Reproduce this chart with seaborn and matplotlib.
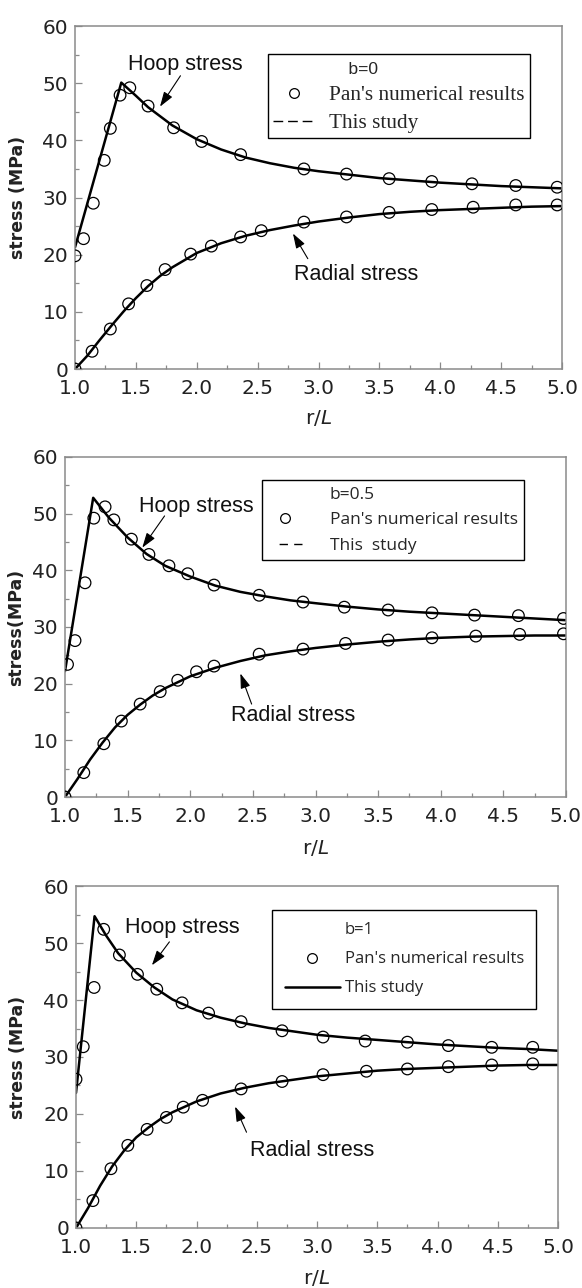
import matplotlib
matplotlib.use("Agg")
import matplotlib.pyplot as plt
from matplotlib.lines import Line2D
from matplotlib.ticker import MultipleLocator, FormatStrFormatter
import seaborn as sns

# ---------------- b = 0 ----------------
pan_hoop_r_b0 = [1.00, 1.07, 1.15, 1.24, 1.29, 1.37, 1.45, 1.60, 1.81, 2.04, 2.36, 2.88, 3.23, 3.58, 3.93, 4.26, 4.62, 4.96]
pan_hoop_s_b0 = [19.8, 22.8, 29.0, 36.5, 42.1, 47.9, 49.2, 46.0, 42.2, 39.8, 37.5, 35.0, 34.1, 33.3, 32.8, 32.4, 32.1, 31.8]
pan_rad_r_b0 = [1.00, 1.14, 1.29, 1.44, 1.59, 1.74, 1.95, 2.12, 2.36, 2.53, 2.88, 3.23, 3.58, 3.93, 4.27, 4.62, 4.96]
pan_rad_s_b0 = [0.0, 3.1, 7.0, 11.4, 14.6, 17.4, 20.1, 21.5, 23.1, 24.2, 25.7, 26.6, 27.4, 27.9, 28.3, 28.7, 28.7]
study_hoop_r_b0 = [1.00, 1.38, 1.50, 1.60, 1.80, 2.00, 2.20, 2.40, 2.60, 2.80, 3.00, 3.25, 3.50, 3.75, 4.00, 4.25, 4.50, 4.75, 5.00]
study_hoop_s_b0 = [21.3, 50.1, 47.8, 45.8, 42.6, 40.2, 38.4, 37.0, 36.0, 35.2, 34.6, 34.0, 33.4, 33.0, 32.6, 32.3, 32.0, 31.8, 31.6]
study_rad_r_b0 = [1.0, 1.1, 1.2, 1.3, 1.4, 1.5, 1.6, 1.7, 1.8, 2.0, 2.2, 2.4, 2.6, 2.8, 3.0, 3.25, 3.5, 3.75, 4.0, 4.25, 4.5, 4.75, 5.0]
study_rad_s_b0 = [0.0, 2.3, 5.0, 7.6, 10.1, 12.4, 14.5, 16.3, 17.8, 20.3, 22.0, 23.3, 24.3, 25.1, 25.8, 26.5, 27.1, 27.5, 27.8, 28.0, 28.2, 28.4, 28.5]

# ---------------- b = 0.5 ----------------
pan_hoop_r_b05 = [1.02, 1.08, 1.16, 1.23, 1.32, 1.39, 1.53, 1.67, 1.83, 1.98, 2.19, 2.55, 2.90, 3.23, 3.58, 3.93, 4.27, 4.62, 4.98]
pan_hoop_s_b05 = [23.4, 27.6, 37.8, 49.2, 51.2, 48.9, 45.5, 42.8, 40.8, 39.4, 37.4, 35.6, 34.4, 33.5, 33.0, 32.5, 32.1, 32.0, 31.5]
pan_rad_r_b05 = [1.00, 1.15, 1.31, 1.45, 1.60, 1.76, 1.90, 2.05, 2.19, 2.55, 2.90, 3.24, 3.58, 3.93, 4.28, 4.63, 4.98]
pan_rad_s_b05 = [0.0, 4.3, 9.4, 13.4, 16.4, 18.6, 20.6, 22.1, 23.1, 25.2, 26.1, 27.1, 27.7, 28.1, 28.4, 28.7, 28.8]
study_hoop_r_b05 = [1.00, 1.225, 1.35, 1.50, 1.65, 1.80, 2.00, 2.20, 2.40, 2.60, 2.80, 3.00, 3.25, 3.50, 3.75, 4.00, 4.25, 4.50, 4.75, 5.00]
study_hoop_s_b05 = [22.2, 52.8, 49.3, 45.8, 42.9, 40.8, 38.9, 37.3, 36.2, 35.4, 34.7, 34.2, 33.6, 33.1, 32.7, 32.4, 32.1, 31.8, 31.5, 31.2]
study_rad_r_b05 = [1.0, 1.1, 1.2, 1.3, 1.4, 1.5, 1.6, 1.7, 1.8, 2.0, 2.2, 2.4, 2.6, 2.8, 3.0, 3.25, 3.5, 3.75, 4.0, 4.25, 4.5, 4.75, 5.0]
study_rad_s_b05 = [0.0, 3.2, 6.6, 9.6, 12.3, 14.5, 16.3, 17.9, 19.2, 21.3, 22.8, 24.0, 25.0, 25.7, 26.3, 26.9, 27.4, 27.8, 28.1, 28.3, 28.4, 28.5, 28.5]

# ---------------- b = 1 ----------------
pan_hoop_r_b1 = [1.00, 1.06, 1.15, 1.23, 1.36, 1.51, 1.67, 1.88, 2.10, 2.37, 2.71, 3.05, 3.40, 3.75, 4.09, 4.45, 4.79]
pan_hoop_s_b1 = [26.1, 31.8, 42.2, 52.4, 47.9, 44.5, 41.9, 39.5, 37.7, 36.2, 34.6, 33.5, 32.8, 32.6, 32.0, 31.7, 31.7]
pan_rad_r_b1 = [1.00, 1.14, 1.29, 1.43, 1.59, 1.75, 1.89, 2.05, 2.37, 2.71, 3.05, 3.41, 3.75, 4.09, 4.45, 4.79]
pan_rad_s_b1 = [0.0, 4.8, 10.4, 14.5, 17.3, 19.4, 21.2, 22.4, 24.4, 25.7, 26.9, 27.5, 27.9, 28.3, 28.6, 28.8]
study_hoop_r_b1 = [1.00, 1.154, 1.25, 1.35, 1.50, 1.65, 1.80, 2.00, 2.20, 2.40, 2.60, 2.80, 3.00, 3.25, 3.50, 3.75, 4.00, 4.25, 4.50, 4.75, 5.00]
study_hoop_s_b1 = [23.7, 54.7, 51.3, 48.2, 44.8, 42.2, 40.1, 38.2, 36.9, 35.9, 35.1, 34.5, 33.9, 33.4, 33.0, 32.6, 32.2, 31.9, 31.6, 31.4, 31.1]
study_rad_r_b1 = [1.0, 1.1, 1.2, 1.3, 1.4, 1.5, 1.6, 1.7, 1.8, 2.0, 2.2, 2.4, 2.6, 2.8, 3.0, 3.25, 3.5, 3.75, 4.0, 4.25, 4.5, 4.75, 5.0]
study_rad_s_b1 = [0.0, 3.5, 7.4, 10.8, 13.6, 15.9, 17.6, 19.1, 20.3, 22.2, 23.6, 24.6, 25.4, 26.0, 26.6, 27.1, 27.6, 27.9, 28.1, 28.3, 28.5, 28.6, 28.6]

b_labels = ["b=0", "b=0.5", "b=1"]
y_labels = ["stress (MPa)", "stress(MPa)", "stress (MPa)"]
x_ticks = [1.0, 1.5, 2.0, 2.5, 3.0, 3.5, 4.0, 4.5, 5.0]
y_ticks = [0, 10, 20, 30, 40, 50, 60]

sns.set_style("ticks")
plt.rcParams["font.family"] = ["DejaVu Sans"]
plt.rcParams["mathtext.fontset"] = "dejavusans"

fig = plt.figure(figsize=(5.82, 12.88), dpi=100)

panels = [
    dict(rect=[0.1289, 0.7135, 0.8368, 0.2663],
         pan=(pan_hoop_r_b0, pan_hoop_s_b0, pan_rad_r_b0, pan_rad_s_b0),
         study=(study_hoop_r_b0, study_hoop_s_b0, study_rad_r_b0, study_rad_s_b0),
         hoop_txt=(1.905, 53.3), hoop_arrow=((1.866, 51.3), (1.698, 45.9)),
         rad_txt=(3.31, 16.6), rad_arrow=((2.912, 19.3), (2.79, 23.7)),
         ylab_x=-0.099, xlab_y=-0.114),
    dict(rect=[0.1117, 0.3812, 0.8608, 0.2640],
         pan=(pan_hoop_r_b05, pan_hoop_s_b05, pan_rad_r_b05, pan_rad_s_b05),
         study=(study_hoop_r_b05, study_hoop_s_b05, study_rad_r_b05, study_rad_s_b05),
         hoop_txt=(2.05, 51.2), hoop_arrow=((1.795, 49.6), (1.617, 44.0)),
         rad_txt=(2.82, 14.3), rad_arrow=((2.49, 16.4), (2.40, 21.8)),
         ylab_x=-0.080, xlab_y=-0.121),
    dict(rect=[0.1306, 0.0466, 0.8282, 0.2655],
         pan=(pan_hoop_r_b1, pan_hoop_s_b1, pan_rad_r_b1, pan_rad_s_b1),
         study=(study_hoop_r_b1, study_hoop_s_b1, study_rad_r_b1, study_rad_s_b1),
         hoop_txt=(1.886, 52.7), hoop_arrow=((1.775, 50.2), (1.63, 46.1)),
         rad_txt=(2.957, 13.6), rad_arrow=((2.415, 16.8), (2.32, 21.3)),
         ylab_x=-0.102, xlab_y=-0.117),
]

spine_grey = "#8a8a8a"
text_col = "#222222"

for i, p in enumerate(panels):
    ax = fig.add_axes(p["rect"])
    hr, hs, rr, rs = p["study"]
    sns.lineplot(x=hr, y=hs, ax=ax, color="black", lw=1.8, estimator=None, sort=False)
    sns.lineplot(x=rr, y=rs, ax=ax, color="black", lw=1.8, estimator=None, sort=False)
    phr, phs, prr, prs = p["pan"]
    for xs, ys in ((phr, phs), (prr, prs)):
        sns.scatterplot(x=xs, y=ys, ax=ax, marker="o", s=70,
                        facecolors="none", edgecolors="black", linewidths=0.9, zorder=3)

    ax.set_xlim(1.0, 5.0)
    ax.set_ylim(0, 60)
    ax.set_xticks(x_ticks)
    ax.set_yticks(y_ticks)
    ax.xaxis.set_major_formatter(FormatStrFormatter("%.1f"))
    ax.xaxis.set_minor_locator(MultipleLocator(0.25))
    ax.yaxis.set_minor_locator(MultipleLocator(5))
    ax.tick_params(which="both", direction="in", color=spine_grey, width=0.9)
    ax.tick_params(which="major", length=5, labelsize=14.5, labelcolor=text_col)
    ax.tick_params(axis="x", which="major", pad=7.5)
    ax.tick_params(axis="y", which="major", pad=5)
    ax.tick_params(which="minor", length=3)
    for sp in ax.spines.values():
        sp.set_color(spine_grey)
        sp.set_linewidth(1.1)

    ax.set_xlabel("r/$L$", fontsize=14.5, color=text_col)
    ax.xaxis.set_label_coords(0.5, p["xlab_y"])
    ax.set_ylabel(y_labels[i], fontsize=12.5, fontweight="bold", color=text_col)
    ax.yaxis.set_label_coords(p["ylab_x"], 0.5)

    # curve annotations
    ax.text(*p["hoop_txt"], "Hoop stress", fontsize=15.5, family="Liberation Sans",
            ha="center", va="center", color="#111111")
    ax.text(*p["rad_txt"], "Radial stress", fontsize=15.5, family="Liberation Sans",
            ha="center", va="center", color="#111111")
    for tail, head in (p["hoop_arrow"], p["rad_arrow"]):
        ax.annotate("", xy=head, xytext=tail,
                    arrowprops=dict(arrowstyle="-|>,head_length=0.9,head_width=0.3",
                                    color="black", lw=0.8, shrinkA=0, shrinkB=0))

    # legend
    blank = Line2D([], [], linestyle="none")
    circ = Line2D([], [], linestyle="none", marker="o", markersize=7,
                  markerfacecolor="none", markeredgecolor="black", markeredgewidth=0.9)
    if i == 0:
        line = Line2D([], [], color="black", lw=1.0, linestyle=(0, (7, 3.5, 7, 3.5, 7, 20)))
        leg = ax.legend([blank, circ, line],
                        ["    " + b_labels[i], "Pan's numerical results", "This study"],
                        loc="upper left", bbox_to_anchor=(0.396, 0.918), borderaxespad=0,
                        prop={"family": "Liberation Serif", "size": 15.3},
                        handlelength=1.98, handletextpad=0.66, borderpad=0.24,
                        labelspacing=0.38, fancybox=False, edgecolor="black", framealpha=1)
        leg.get_texts()[0].set_fontfamily("Liberation Sans")
        leg.get_texts()[0].set_fontsize(12.5)
    elif i == 1:
        line = Line2D([], [], color="black", lw=1.0, linestyle=(16.5, (6, 4.5, 6, 8)))
        leg = ax.legend([blank, circ, line],
                        [b_labels[i], "Pan's numerical results", "This  study"],
                        loc="upper left", bbox_to_anchor=(0.393, 0.932), borderaxespad=0,
                        prop={"family": "Open Sans", "size": 12.5},
                        handlelength=1.96, handletextpad=1.6, borderpad=0.36,
                        labelspacing=0.55, fancybox=False, edgecolor="black", framealpha=1)
    else:
        line = Line2D([], [], color="black", lw=1.8)
        leg = ax.legend([blank, circ, line],
                        [b_labels[i], "Pan's numerical results", "This study"],
                        loc="upper left", bbox_to_anchor=(0.407, 0.930), borderaxespad=0,
                        prop={"family": "Open Sans", "size": 12},
                        handlelength=3.3, handletextpad=0.3, borderpad=0.75,
                        labelspacing=0.78, fancybox=False, edgecolor="black", framealpha=1)
    leg.get_frame().set_linewidth(1.0)

fig.savefig("out.png", dpi=100, facecolor="white")
